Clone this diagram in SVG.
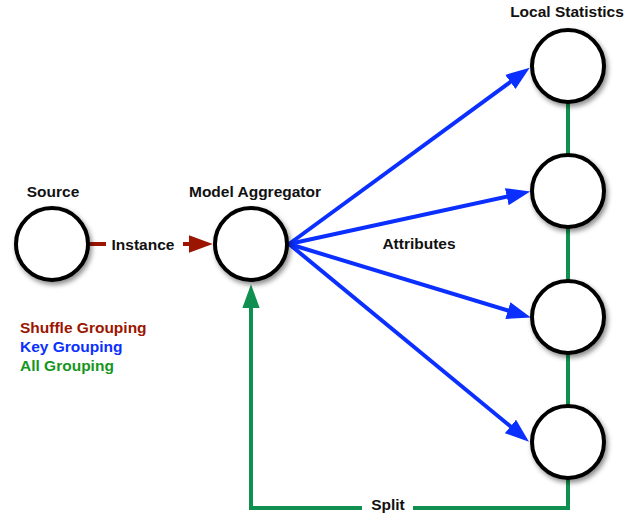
<svg xmlns="http://www.w3.org/2000/svg" width="641" height="514" viewBox="0 0 641 514">
<defs>
<filter id="sh" x="-30%" y="-30%" width="170%" height="170%">
<feDropShadow dx="2" dy="3" stdDeviation="2.5" flood-color="#000" flood-opacity="0.45"/>
</filter>
<marker id="ab" markerUnits="userSpaceOnUse" markerWidth="24" markerHeight="18" viewBox="0 0 22 16" refX="3" refY="8" orient="auto"><path d="M0,0 L22,8 L0,16 z" fill="#0a2fff"/></marker>
<marker id="ar" markerUnits="userSpaceOnUse" markerWidth="24" markerHeight="18" viewBox="0 0 22 16" refX="3" refY="8" orient="auto"><path d="M0,0 L22,8 L0,16 z" fill="#9c1500"/></marker>
<marker id="ag" markerUnits="userSpaceOnUse" markerWidth="24" markerHeight="18" viewBox="0 0 22 16" refX="3" refY="8" orient="auto"><path d="M0,0 L22,8 L0,16 z" fill="#109050"/></marker>
</defs>
<style>
text{font-family:"Liberation Sans",Arial,sans-serif;font-weight:bold;font-size:15.5px;fill:#111}
.n{fill:#fff;stroke:#000;stroke-width:4;filter:url(#sh)}
.b{stroke:#0a2fff;stroke-width:4;fill:none;marker-end:url(#ab)}
.r{stroke:#9c1500;stroke-width:4;fill:none}
.g{stroke:#109050;stroke-width:4;fill:none}
.m{text-anchor:middle}
</style>
<rect width="641" height="514" fill="#fff"/>
<g id="connectors">
<line class="r" x1="88" y1="244" x2="106" y2="244"/>
<line class="r" x1="183" y1="244" x2="192" y2="244" marker-end="url(#ar)"/>
<line class="b" x1="289" y1="244" x2="513" y2="80"/>
<line class="b" x1="289" y1="244" x2="510" y2="196"/>
<line class="b" x1="289" y1="244" x2="511" y2="311.5"/>
<line class="b" x1="289" y1="244" x2="513" y2="428.5"/>
<line class="g" x1="568" y1="100" x2="568" y2="158"/>
<line class="g" x1="568" y1="225" x2="568" y2="284"/>
<line class="g" x1="568" y1="350" x2="568" y2="408"/>
<path class="g" d="M568,476 V508 H413"/>
<path class="g" d="M362,508 H251 V305" marker-end="url(#ag)"/>
<text class="m" x="143" y="250">Instance</text>
<text class="m" x="419" y="249">Attributes</text>
<text class="m" x="388" y="510">Split</text>
</g>
<g id="source">
<circle class="n" cx="52" cy="244" r="36"/>
<text class="m" x="53" y="197">Source</text>
</g>
<g id="aggregator">
<circle class="n" cx="251" cy="244" r="36"/>
<text class="m" x="255" y="197">Model Aggregator</text>
</g>
<g id="local1">
<circle class="n" cx="568" cy="66" r="36"/>
<text class="m" x="567" y="17">Local Statistics</text>
</g>
<g id="local2">
<circle class="n" cx="568" cy="191" r="36"/>
</g>
<g id="local3">
<circle class="n" cx="568" cy="317" r="36"/>
</g>
<g id="local4">
<circle class="n" cx="568" cy="442" r="36"/>
</g>
<g id="legend">
<text x="20" y="333" style="fill:#9c1500">Shuffle Grouping</text>
<text x="20" y="352" style="fill:#0a2fff">Key Grouping</text>
<text x="20" y="371" style="fill:#16961e">All Grouping</text>
</g>
</svg>
